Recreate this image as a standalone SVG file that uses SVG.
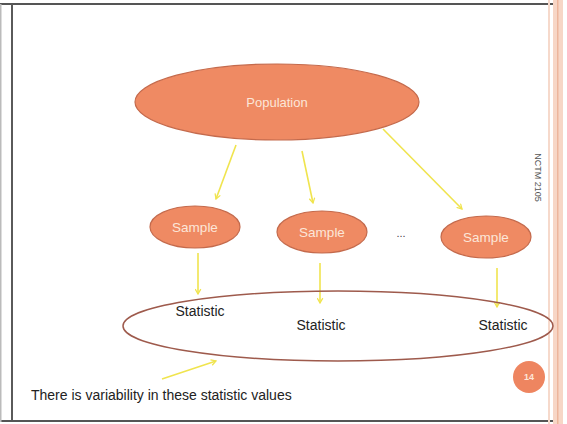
<svg xmlns="http://www.w3.org/2000/svg" width="567" height="424" viewBox="0 0 567 424">
<style>
.node{fill:#EF8A63;stroke:#C46A4C;stroke-width:1.2}
.lbl{font-family:"Liberation Sans",Arial,sans-serif;fill:#FCE6D8;text-anchor:middle}
.stat{font-family:"Liberation Sans",Arial,sans-serif;fill:#222;font-size:14px;text-anchor:middle}
.arr{stroke:#F0E44E;stroke-width:1.6;fill:none;marker-end:url(#ah)}
</style>
<defs>
<marker id="ah" viewBox="0 0 10 10" refX="8" refY="5" markerWidth="7" markerHeight="7" markerUnits="userSpaceOnUse" orient="auto">
<path d="M1,1 L8,5 L1,9" fill="none" stroke="#F0E44E" stroke-width="1.8"/>
</marker>
</defs>
<rect x="0" y="0" width="567" height="424" fill="#ffffff"/>
<g id="frame">
<rect x="0" y="3" width="554" height="2" fill="#555"/>
<rect x="11" y="4" width="2" height="418" fill="#5a5a5a"/>
<rect x="0" y="420" width="554" height="2" fill="#555"/>
<rect x="0" y="4" width="1.5" height="418" fill="#bbb"/>
<rect x="548" y="0" width="2" height="424" fill="#F6D9CB"/>
<rect x="553" y="0" width="10" height="424" fill="#F7D6C6"/>
<rect x="557" y="0" width="1.5" height="424" fill="#EDB59C"/>
</g>
<g id="connectors">
<line class="arr" x1="236" y1="145" x2="216" y2="199"/>
<line class="arr" x1="302" y1="151" x2="313" y2="203"/>
<line class="arr" x1="383" y1="129" x2="462" y2="209"/>
<line class="arr" x1="198" y1="253" x2="198" y2="294"/>
<line class="arr" x1="320" y1="263" x2="320" y2="303"/>
<line class="arr" x1="497" y1="268" x2="497" y2="307"/>
<line class="arr" x1="162" y1="379" x2="216" y2="361"/>
</g>
<g id="population">
<ellipse class="node" cx="277" cy="102" rx="142" ry="38"/>
<text class="lbl" x="277" y="107" font-size="13">Population</text>
</g>
<g id="sample1">
<ellipse class="node" cx="195" cy="227" rx="45" ry="21"/>
<text class="lbl" x="195" y="232" font-size="13.5">Sample</text>
</g>
<g id="sample2">
<ellipse class="node" cx="322" cy="232" rx="45" ry="21"/>
<text class="lbl" x="322" y="237" font-size="13.5">Sample</text>
</g>
<g id="ellipsis">
<text x="401" y="237" font-family="Liberation Sans,Arial,sans-serif" font-size="11" fill="#444" text-anchor="middle">...</text>
</g>
<g id="sample3">
<ellipse class="node" cx="486" cy="237" rx="45" ry="21"/>
<text class="lbl" x="486" y="242" font-size="13.5">Sample</text>
</g>
<g id="statistics">
<ellipse cx="338" cy="326" rx="215" ry="35" fill="none" stroke="#9E5A4C" stroke-width="1.5"/>
<text class="stat" x="200" y="316">Statistic</text>
<text class="stat" x="321" y="330">Statistic</text>
<text class="stat" x="503" y="330">Statistic</text>
</g>
<g id="note">
<text x="31" y="400" font-family="Liberation Sans,Arial,sans-serif" font-size="14" fill="#222">There is variability in these statistic values</text>
</g>
<g id="pagenum">
<circle cx="529" cy="377" r="16" fill="#EE8560"/>
<text x="529" y="380" font-family="Liberation Sans,Arial,sans-serif" font-size="9" font-weight="bold" fill="#FDE7DA" text-anchor="middle">14</text>
</g>
<g id="footer">
<text x="0" y="0" transform="translate(534.5,177.5) rotate(90)" font-family="Liberation Sans,Arial,sans-serif" font-size="9" fill="#555" text-anchor="middle">NCTM 2105</text>
</g>
</svg>
